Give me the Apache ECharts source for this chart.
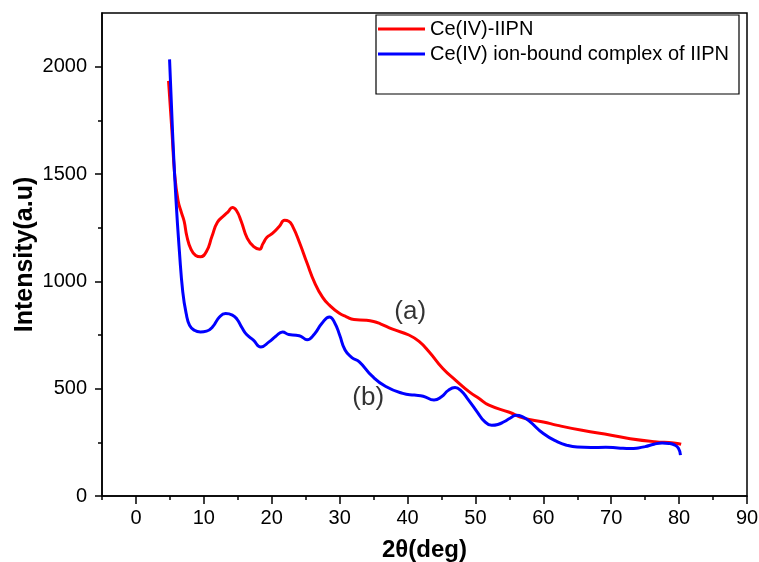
<!DOCTYPE html>
<html>
<head>
<meta charset="utf-8">
<script src="https://cdn.jsdelivr.net/npm/echarts@6/dist/echarts.min.js"></script>
<style>html,body{margin:0;padding:0;background:#fff;}#c{width:759px;height:562px;}</style>
</head>
<body>
<div id="c"></div>
<script>
var seriesNames = ['Ce(IV)-IIPN', 'Ce(IV) ion-bound complex of IIPN'];
var redData = [[4.8,1934],[5.3,1700],[5.7,1500],[6.2,1377],[6.7,1320],[7.1,1280],[7.5,1210],[8.1,1150],[8.8,1120],[9.5,1114],[10.4,1140],[11.2,1210],[12.0,1275],[13.0,1307],[13.6,1325],[14.2,1344],[14.8,1330],[15.5,1280],[16.4,1200],[17.4,1160],[18.2,1150],[18.7,1175],[19.3,1205],[20.1,1223],[21.1,1255],[21.9,1284],[22.5,1280],[23.1,1255],[24.1,1180],[25.2,1085],[26.3,995],[27.5,925],[28.5,889],[29.9,852],[31.0,835],[32.1,822],[33.9,819],[35.0,813],[36.0,802],[37.8,777],[40.2,750],[41.7,720],[43.2,671],[45.2,594],[47.1,539],[49.1,485],[50.5,455],[52.0,423],[55.0,390],[57.1,363],[60.0,345],[62.1,329],[65.7,306],[70.0,283],[72.8,267],[76.4,253],[79.2,247],[80.3,241]];
var blueData = [[4.95,2034],[5.4,1689],[5.9,1378],[6.4,1140],[6.9,950],[7.4,850],[7.9,795],[8.6,772],[9.5,764],[10.4,768],[11.3,788],[12.3,834],[13.2,850],[14.2,843],[14.9,823],[15.6,785],[16.3,752],[17.3,726],[18.4,694],[19.6,718],[20.6,744],[21.6,764],[22.5,752],[23.6,749],[24.3,744],[25.2,728],[26.3,755],[27.4,805],[28.5,834],[29.3,805],[30.0,750],[30.8,680],[31.8,645],[32.9,625],[34.8,558],[36.8,510],[39.3,478],[41.0,470],[42.3,465],[43.9,447],[45.0,462],[46.0,492],[47.0,505],[47.9,490],[48.8,455],[50.3,390],[51.3,349],[52.4,329],[53.3,333],[54.2,346],[55.1,362],[56.0,376],[56.9,370],[57.9,350],[60.0,291],[62.1,252],[63.5,236],[65.0,228],[67.0,226],[69.2,227],[71.0,224],[72.8,221],[74.0,224],[75.0,230],[76.3,241],[77.5,247],[78.5,245],[79.3,238],[79.9,222],[80.2,190]];
var annotations = [{name:'(a)', value:[40.4, 856]}, {name:'(b)', value:[34.2, 455]}];
var xTicks = [0,10,20,30,40,50,60,70,80,90];
var xMinorTicks = [-5,5,15,25,35,45,55,65,75,85];
var yTicks = [0,500,1000,1500,2000];
var yMinorTicks = [250,750,1250,1750];

var FONT = '"Liberation Sans", Arial, sans-serif';
var plain = function(v){ return String(v); };
var chart = echarts.init(document.getElementById('c'), null, {renderer:'canvas'});
chart.setOption({
  animation: false,
  backgroundColor: '#fff',
  textStyle: {fontFamily: FONT},
  grid: {left:102, right:12, top:13, bottom:66, containLabel:false, outerBoundsMode:'none', show:true, borderColor:'#000', borderWidth:1.5, backgroundColor:'transparent'},
  legend: {
    data: seriesNames, orient:'vertical', left:378, top:19, padding:0,
    icon:'rect', itemWidth:47, itemHeight:3, itemGap:5,
    textStyle:{fontFamily:FONT, fontSize:20, color:'#000', lineHeight:20}
  },
  graphic: [{type:'rect', shape:{x:376, y:15, width:363, height:79}, style:{fill:'none', stroke:'#000', lineWidth:1.2}, z:100}],
  xAxis: [{
    type:'value', min:-5, max:90, position:'bottom',
    name:'2θ(deg)', nameLocation:'middle', nameGap:42, nameMoveOverlap:false,
    nameTextStyle:{fontFamily:FONT, fontSize:24, fontWeight:'bold', color:'#000'},
    axisLine:{show:true, onZero:false, lineStyle:{color:'#000', width:1.5}},
    axisTick:{show:true, customValues:xTicks, length:8, lineStyle:{color:'#000', width:1.5}},
    axisLabel:{show:true, customValues:xTicks, formatter:plain, fontSize:20, color:'#000', margin:12, fontFamily:FONT},
    splitLine:{show:false}
  },{
    type:'value', min:-5, max:90, position:'bottom',
    axisLine:{show:false, onZero:false},
    axisTick:{show:true, customValues:xMinorTicks, length:4, lineStyle:{color:'#000', width:1.5}},
    axisLabel:{show:false}, splitLine:{show:false}
  }],
  yAxis: [{
    type:'value', min:0, max:2250, position:'left',
    name:'Intensity(a.u)', nameLocation:'middle', nameGap:64, nameMoveOverlap:false,
    nameTextStyle:{fontFamily:FONT, fontSize:25, fontWeight:'bold', color:'#000'},
    axisLine:{show:true, onZero:false, lineStyle:{color:'#000', width:1.5}},
    axisTick:{show:true, customValues:yTicks, length:7, lineStyle:{color:'#000', width:1.5}},
    axisLabel:{show:true, customValues:yTicks, formatter:plain, fontSize:20, color:'#000', margin:15, fontFamily:FONT},
    splitLine:{show:false}
  },{
    type:'value', min:0, max:2250, position:'left',
    axisLine:{show:false, onZero:false},
    axisTick:{show:true, customValues:yMinorTicks, length:4, lineStyle:{color:'#000', width:1.5}},
    axisLabel:{show:false}, splitLine:{show:false}
  }],
  series: [
    {name:seriesNames[0], type:'line', data:redData, xAxisIndex:0, yAxisIndex:0, showSymbol:false, symbol:'none', smooth:0.5, lineStyle:{color:'#ff0000', width:3}, itemStyle:{color:'#ff0000'}, z:3},
    {name:seriesNames[1], type:'line', data:blueData, xAxisIndex:0, yAxisIndex:0, showSymbol:false, symbol:'none', smooth:0.5, lineStyle:{color:'#0000ff', width:3}, itemStyle:{color:'#0000ff'}, z:4},
    {name:'labels', type:'scatter', data:annotations, symbolSize:0, xAxisIndex:0, yAxisIndex:0, silent:true,
     label:{show:true, position:'inside', formatter:function(p){return p.name;}, fontFamily:FONT, fontSize:26, color:'#000'}}
  ]
});
</script>
</body>
</html>
